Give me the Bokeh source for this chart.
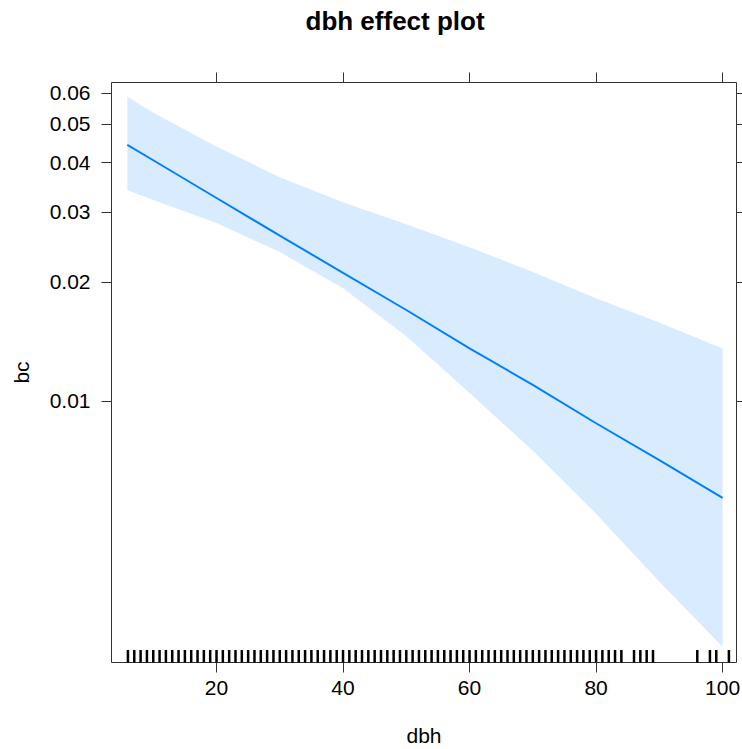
import math
from bokeh.plotting import figure
from bokeh.models import Range1d, LinearAxis, LogAxis, FixedTicker, CustomJSTickFormatter
from bokeh.embed import file_html
from bokeh.resources import INLINE

# ---- data ----
dbh_grid = [5.9, 10, 20, 30, 40, 50, 60, 70, 80, 90, 100]
fit = [0.0444, 0.0406, 0.0326, 0.0262, 0.0211, 0.0170, 0.0136, 0.0110, 0.0088, 0.0071, 0.0057]
upper = [0.0587, 0.0535, 0.0440, 0.0368, 0.0318, 0.0280, 0.0245, 0.0212, 0.0182, 0.0158, 0.0136]
lower = [0.0341, 0.0322, 0.0282, 0.0238, 0.0193, 0.0146, 0.0105, 0.0075, 0.0052, 0.0035, 0.0024]
rug_dbh = list(range(6, 85)) + [86, 87, 88, 89, 96, 98, 99, 101]
x_ticks = [20, 40, 60, 80, 100]
y_ticks = [0.01, 0.02, 0.03, 0.04, 0.05, 0.06]
title_text = "dbh effect plot"
x_label = "dbh"
y_label = "bc"

FONT = "Liberation Sans"
AX = "#333333"
FRAME_W, FRAME_H = 625, 580

p = figure(frame_width=FRAME_W, frame_height=FRAME_H,
           x_range=Range1d(3.4, 102.2), y_range=Range1d(0.00219, 0.0638),
           y_axis_type="log", x_axis_location=None, y_axis_location=None,
           output_backend="svg", toolbar_location=None,
           min_border_left=111, min_border_right=6, min_border_top=0, min_border_bottom=0,
           background_fill_color="white", border_fill_color="white")
p.grid.visible = False
p.outline_line_color = AX
p.outline_line_width = 1

# trailing empty line gives the gap between the title and the top ticks
p.title.text = title_text + "\n"
p.title.text_font = FONT
p.title.text_font_size = "26px"
p.title.text_font_style = "bold"
p.title.text_color = "black"
p.title.align = "left"
p.title.offset = 194
p.title.vertical_align = "top"
p.title.standoff = 10

# band, fit line, rug
p.varea(x=dbh_grid, y1=lower, y2=upper, fill_color="#0080ff", fill_alpha=0.15)
p.line(dbh_grid, fit, line_color="#0080ff", line_width=2)
p.scatter(x=rug_dbh, y=[p.y_range.start] * len(rug_dbh), marker="dash",
          angle=math.pi / 2, size=25, line_color="black", line_width=2.5)

def style(ax):
    ax.axis_line_color = None
    ax.major_tick_line_color = AX
    ax.major_tick_in = 0
    ax.major_tick_out = 10
    ax.minor_tick_in = 0
    ax.minor_tick_out = 0
    ax.major_label_text_font = FONT
    ax.major_label_text_color = "black"
    ax.major_label_text_font_size = "21px"
    ax.axis_label_text_font = FONT
    ax.axis_label_text_font_size = "21px"
    ax.axis_label_text_font_style = "normal"
    ax.axis_label_text_color = "black"

blank = CustomJSTickFormatter(code="return '';")

left = LogAxis(ticker=FixedTicker(ticks=y_ticks),
               formatter=CustomJSTickFormatter(code="return tick.toFixed(2);"),
               axis_label=y_label)
style(left)
left.major_label_standoff = 11
left.axis_label_standoff = 14
p.add_layout(left, "left")

right = LogAxis(ticker=FixedTicker(ticks=y_ticks), formatter=blank)
style(right)
right.major_tick_out = 6
right.major_label_standoff = 0
p.add_layout(right, "right")

bottom = LinearAxis(ticker=FixedTicker(ticks=x_ticks), axis_label=x_label)
style(bottom)
bottom.major_label_standoff = 8
bottom.axis_label_standoff = 26
p.add_layout(bottom, "below")

top = LinearAxis(ticker=FixedTicker(ticks=x_ticks), formatter=blank)
style(top)
top.major_label_standoff = 0
p.add_layout(top, "above")

open("out.html", "w").write(file_html(p, INLINE))
